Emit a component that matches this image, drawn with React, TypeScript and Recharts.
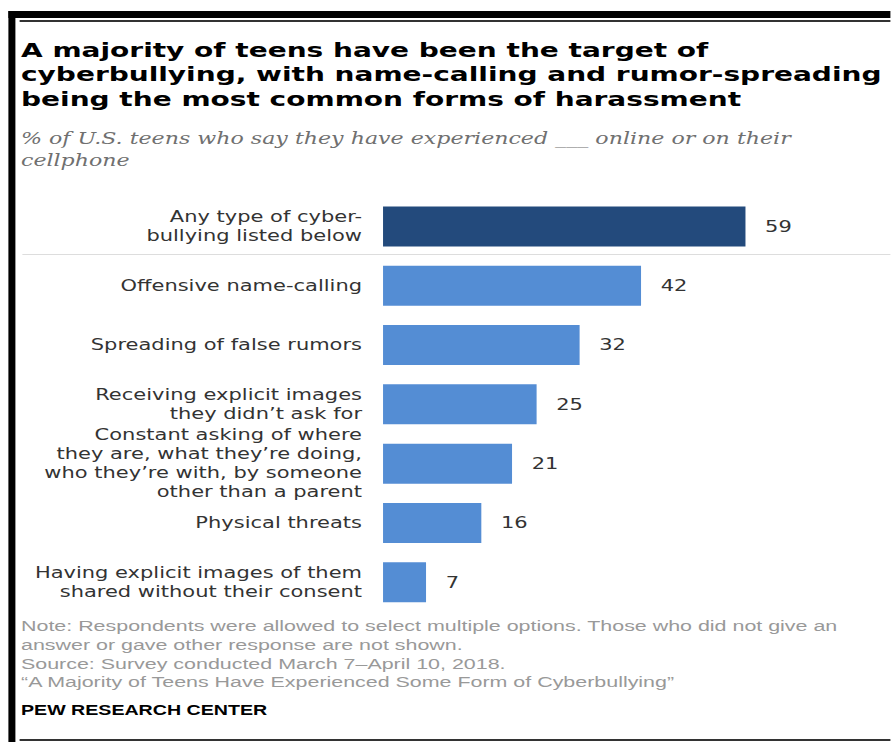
import { BarChart, Bar, XAxis, YAxis, Cell, LabelList } from "recharts";

// chart data
const categories = [
  "Any type of cyber-|bullying listed below",
  "Offensive name-calling",
  "Spreading of false rumors",
  "Receiving explicit images|they didn’t ask for",
  "Constant asking of where|they are, what they’re doing,|who they’re with, by someone|other than a parent",
  "Physical threats",
  "Having explicit images of them|shared without their consent",
];
const values = [59, 42, 32, 25, 21, 16, 7];
const barColors = ["#234a7c", "#548dd4", "#548dd4", "#548dd4", "#548dd4", "#548dd4", "#548dd4"];

const titleLines = [
  "A majority of teens have been the target of",
  "cyberbullying, with name-calling and rumor-spreading",
  "being the most common forms of harassment",
];
const subtitleLines = [
  "% of U.S. teens who say they have experienced ___ online or on their",
  "cellphone",
];
const noteLines = [
  "Note: Respondents were allowed to select multiple options. Those who did not give an",
  "answer or gave other response are not shown.",
  "Source: Survey conducted March 7–April 10, 2018.",
  "“A Majority of Teens Have Experienced Some Form of Cyberbullying”",
];

// the reference is stretched sideways; everything is laid out narrow and widened
const STRETCH = 1.4;
const W = 891 / STRETCH;
const TEXT_LEFT = 15;

function CategoryTick(props: any) {
  const { x, y, payload } = props;
  const lines = String(payload.value).split("|");
  const lh = 19;
  const y0 = y - ((lines.length - 1) * lh) / 2;
  return (
    <text x={x} y={y0} textAnchor="end" fill="#333" fontSize={15} fontFamily="DejaVu Sans">
      {lines.map((l, i) => (
        <tspan key={i} x={x} y={y0 + i * lh} dy="0.35em">{l}</tspan>
      ))}
    </text>
  );
}

export default function App() {
  const data = categories.map((name, i) => ({ name, value: values[i] }));

  return (
    <div style={{ position: "absolute", left: 0, top: 0, width: 891, height: 742, overflow: "hidden", background: "#fff" }}>
      <div style={{ position: "absolute", left: 0, top: 0, width: W, height: 742, transform: `scaleX(${STRETCH})`, transformOrigin: "0 0" }}>
        {/* frame */}
        <div style={{ position: "absolute", left: 6.4, top: 11, width: W - 6.4, height: 7, background: "#000" }} />
        <div style={{ position: "absolute", left: 14.3, top: 20, width: W - 14.3, height: 1.5, background: "#333" }} />
        <div style={{ position: "absolute", left: 6.4, top: 11, width: 5, height: 731, background: "#000" }} />
        <div style={{ position: "absolute", left: 14.3, top: 739, width: W - 14.3, height: 1.5, background: "#333" }} />

        <div style={{ position: "absolute", left: TEXT_LEFT, top: 37.8, fontFamily: "DejaVu Sans", fontWeight: "bold", fontSize: 20, lineHeight: "24.5px", color: "#000", whiteSpace: "nowrap" }}>
          {titleLines.map((l, i) => <div key={i}>{l}</div>)}
        </div>
        <div style={{ position: "absolute", left: TEXT_LEFT, top: 127.5, fontFamily: "DejaVu Serif", fontStyle: "italic", fontSize: 15.8, lineHeight: "22px", color: "#707070", whiteSpace: "nowrap" }}>
          {subtitleLines.map((l, i) => <div key={i}>{l}</div>)}
        </div>

        <div style={{ position: "absolute", left: 15.7, top: 254, width: W - 15.7, height: 1, background: "#ddd" }} />

        <div style={{ position: "absolute", left: 0, top: 0 }}>
          <BarChart width={W} height={640} data={data} layout="vertical" margin={{ top: 196.4, right: 11.8, bottom: 28.4, left: 0 }}>
            <XAxis type="number" domain={[0, 80]} hide />
            <YAxis type="category" dataKey="name" width={273.6} tickSize={0} tickMargin={15} axisLine={false} tickLine={false} interval={0} tick={<CategoryTick />} />
            <Bar dataKey="value" barSize={40} isAnimationActive={false}>
              {data.map((d, i) => <Cell key={d.name} fill={barColors[i]} />)}
              <LabelList dataKey="value" position="right" offset={14} fill="#333" fontSize={15} fontFamily="DejaVu Sans" />
            </Bar>
          </BarChart>
        </div>

        <div style={{ position: "absolute", left: TEXT_LEFT, top: 617.4, fontFamily: "Liberation Sans", fontSize: 15.3, lineHeight: "18.6px", color: "#999", whiteSpace: "nowrap" }}>
          {noteLines.map((l, i) => <div key={i}>{l}</div>)}
        </div>
        <div style={{ position: "absolute", left: TEXT_LEFT, top: 700, fontFamily: "Liberation Sans", fontWeight: "bold", fontSize: 14, lineHeight: "20px", color: "#000", whiteSpace: "nowrap" }}>
          PEW RESEARCH CENTER
        </div>
      </div>
    </div>
  );
}
